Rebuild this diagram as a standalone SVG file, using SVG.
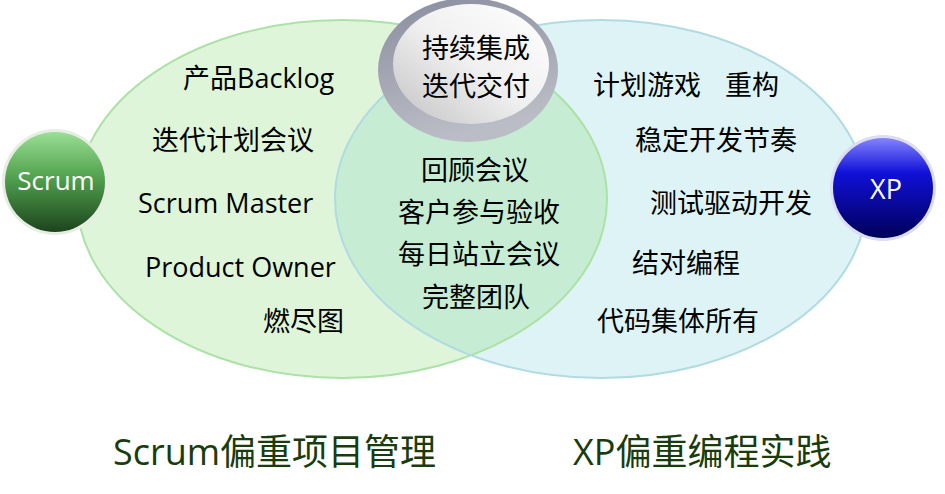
<svg xmlns="http://www.w3.org/2000/svg" width="945" height="494" viewBox="0 0 945 494">
<style>
.t{font-family:'Open Sans','Noto Sans CJK SC',sans-serif;font-size:27px;fill:#000}
.h{font-family:'Open Sans','Noto Sans CJK SC',sans-serif;font-size:36px;fill:#193c0c}
.w{font-family:'Open Sans','Noto Sans CJK SC',sans-serif;font-size:26px;fill:#fff;text-anchor:middle}
</style>
<defs>
<clipPath id="clipL"><ellipse cx="342" cy="199" rx="265" ry="179"/></clipPath>
<linearGradient id="gGreen" x1="0" y1="0" x2="0" y2="1">
<stop offset="0" stop-color="#9adf96"/>
<stop offset="0.45" stop-color="#52a24e"/>
<stop offset="1" stop-color="#1c441d"/>
</linearGradient>
<linearGradient id="gBlue" x1="0" y1="0" x2="0" y2="1">
<stop offset="0" stop-color="#8484ff"/>
<stop offset="0.35" stop-color="#1010d8"/>
<stop offset="1" stop-color="#000058"/>
</linearGradient>
<linearGradient id="gRing" x1="0" y1="0" x2="0.3" y2="1">
<stop offset="0" stop-color="#8a8d9e"/>
<stop offset="1" stop-color="#bbbdc6"/>
</linearGradient>
<linearGradient id="gInner" x1="1" y1="0" x2="0" y2="1">
<stop offset="0" stop-color="#ffffff"/>
<stop offset="0.5" stop-color="#f0f0f0"/>
<stop offset="1" stop-color="#c2c2c4"/>
</linearGradient>
</defs>

<g id="sets">
<ellipse cx="342" cy="199" rx="265" ry="179" fill="#dff5d9"/>
<ellipse cx="601" cy="199" rx="266" ry="179" fill="#def3f5"/>
<ellipse cx="601" cy="199" rx="266" ry="179" fill="#c6ecd3" clip-path="url(#clipL)"/>
<ellipse cx="342" cy="199" rx="265" ry="179" fill="none" stroke="#abe2a6" stroke-width="2"/>
<ellipse cx="601" cy="199" rx="266" ry="179" fill="none" stroke="#b0dbe3" stroke-width="2"/>
</g>

<g id="scrum-items">
<text class="t" x="183" y="88">产品Backlog</text>
<text class="t" x="152" y="150">迭代计划会议</text>
<text class="t" x="138" y="213">Scrum Master</text>
<text class="t" x="145" y="277">Product Owner</text>
<text class="t" x="263" y="331">燃尽图</text>
</g>

<g id="shared-items">
<text class="t" x="421" y="180">回顾会议</text>
<text class="t" x="398" y="222">客户参与验收</text>
<text class="t" x="398" y="264">每日站立会议</text>
<text class="t" x="422" y="307">完整团队</text>
</g>

<g id="xp-items">
<text class="t" y="95"><tspan x="593">计划游戏</tspan><tspan x="725">重构</tspan></text>
<text class="t" x="635" y="150">稳定开发节奏</text>
<text class="t" x="650" y="213">测试驱动开发</text>
<text class="t" x="632" y="273">结对编程</text>
<text class="t" x="597" y="331">代码集体所有</text>
</g>

<g id="ci">
<ellipse cx="468" cy="70" rx="90" ry="72" fill="url(#gRing)"/>
<ellipse cx="471" cy="64" rx="78" ry="60" fill="url(#gInner)"/>
<text class="t" x="422" y="58">持续集成</text>
<text class="t" x="422" y="96">迭代交付</text>
</g>

<g id="scrum">
<circle cx="55" cy="182" r="53" fill="#e6eee4"/>
<circle cx="55" cy="182" r="50" fill="url(#gGreen)"/>
<text class="w" x="56" y="190">Scrum</text>
</g>

<g id="xp">
<circle cx="883" cy="188" r="53" fill="#dcdcf2"/>
<circle cx="883" cy="188" r="50" fill="url(#gBlue)"/>
<text class="w" x="886" y="199" style="font-size:27px">XP</text>
</g>

<g id="captions">
<text class="h" x="113" y="465">Scrum偏重项目管理</text>
<text class="h" x="573" y="465">XP偏重编程实践</text>
</g>
</svg>
